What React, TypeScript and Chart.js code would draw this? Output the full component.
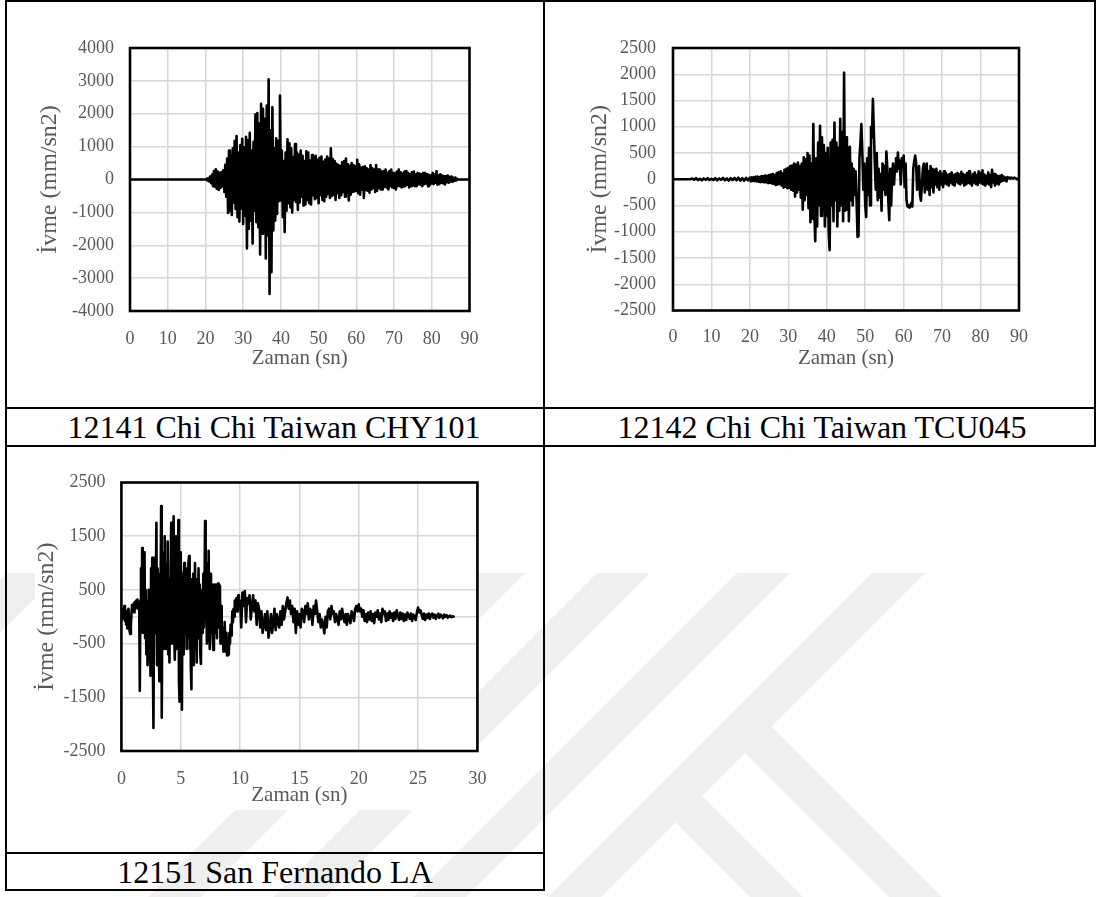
import React, { useEffect, useRef } from "react";
import { Chart, registerables } from "chart.js";

Chart.register(...registerables);

const SERIF = '"Liberation Serif", "Times New Roman", serif';
const TICK_SIZE = 18;
const X_TITLE_SIZE = 21;
const Y_TITLE_SIZE = 24;
const AXIS_GREY = "#595959";
const GRID_GREY = "#d6d6d6";
const TRACE_WIDTH = 2.6;

const xTitle = "Zaman (sn)";
const yTitle = "İvme (mm/sn2)";

// ---------- 12141 Chi Chi Taiwan CHY101 ----------
const chyCaption = "12141 Chi Chi Taiwan CHY101";
const chyRecordEnd = 90; // s
const chyOnset = 20; // s, ground at rest before this
const chyStep = 0.25; // s
// acceleration (mm/sn2), one row per second from 20 s
const chyAccel = [
  0, 20, -30, 40,
  -60, 90, -110, 150,
  -200, 260, -220, 310,
  -280, 240, -320, 200,
  -260, 230, -200, 280,
  -380, 450, -520, 640,
  -1020, 880, -960, 720,
  -1080, 950, -700, 1180,
  -900, 1320, -1150, 820,
  -1280, 1050, -880, 1240,
  -1350, 980, -1100, 1300,
  -2100, 1200, -1500, 1420,
  -1250, 880, -1950, 1150,
  -950, 1980, -1300, 2020,
  -1450, 1700, -2280, 2300,
  -1650, 2150, -1500, 1850,
  -2400, 2250, -1700, 3050,
  -3480, 1500, -2820, 2200,
  -1550, 950, -1250, 1250,
  -1050, 1180, -650, 2550,
  -580, 880, -1150, 560,
  -1600, 820, -950, 1220,
  -720, 1100, -850, 950,
  -1000, 680, -620, 1080,
  -680, 820, -930, 760,
  -700, 880, -520, 720,
  -800, 560, -760, 860,
  -620, 820, -720, 580,
  -760, 740, -480, 680,
  -600, 720, -560, 600,
  -720, 660, -480, 700,
  -620, 540, -660, 610,
  -520, 700, -440, 640,
  -560, 950, -500, 620,
  -460, 560, -620, 480,
  -420, 440, -560, 420,
  -480, 520, -380, 560,
  -520, 640, -340, 460,
  -640, 420, -460, 500,
  -380, 440, -360, 400,
  -340, 600, -420, 460,
  -460, 360, -300, 380,
  -560, 400, -320, 340,
  -340, 300, -400, 440,
  -300, 340, -260, 300,
  -380, 440, -340, 300,
  -260, 300, -300, 240,
  -300, 260, -220, 300,
  -240, 200, -300, 260,
  -200, 300, -240, 200,
  -260, 200, -300, 240,
  -200, 300, -200, 220,
  -240, 180, -220, 240,
  -200, 260, -160, 200,
  -240, 160, -200, 220,
  -160, 240, -200, 160,
  -200, 200, -140, 180,
  -160, 160, -200, 200,
  -140, 200, -120, 160,
  -200, 140, -160, 120,
  -120, 200, -140, 150,
  -100, 250, -160, 120,
  -140, 160, -100, 120,
  -120, 100, -150, 100,
  -80, 120, -100, 80,
  -60, 90, -70, 50,
  -40, 60, -30, 20,
  0,
];
const chyTimeTicks = [0, 10, 20, 30, 40, 50, 60, 70, 80, 90];
const chyAccelTicks = [-4000, -3000, -2000, -1000, 0, 1000, 2000, 3000, 4000];

// ---------- 12142 Chi Chi Taiwan TCU045 ----------
const tcuCaption = "12142 Chi Chi Taiwan TCU045";
const tcuQuietStep = 0.5; // s, 0–19.5 s
const tcuQuiet = [
  0, 0, 0, 0, 0, 0, 0, 0, 0, 0,
  15, -10, 20, -15, 10, -20, 15, -10, 20, -15,
  10, -15, 20, -20, 15, -10, 25, -20, 15, -25,
  20, -15, 25, -20, 30, -25, 20, -30, 25, -20,
];
const tcuMainStart = 20; // s
const tcuMainStep = 0.25; // s
// acceleration (mm/sn2), one row per second from 20 s
const tcuMain = [
  30, -40, 35, -30,
  40, -35, 45, -40,
  50, -45, 40, -55,
  60, -50, 55, -60,
  70, -60, 65, -75,
  80, -70, 90, -80,
  100, -90, 80, -110,
  120, -100, 130, -90,
  150, -120, 110, -160,
  180, -140, 200, -170,
  220, -160, 250, -200,
  260, -220, 300, -330,
  280, -250, 320, -200,
  250, -350, 300, -580,
  420, -400, 380, -300,
  500, -550, 450, -820,
  300, -750, 1050, -600,
  -1180, 400, -900, 700,
  -500, 1020, -700, 800,
  -600, 650, -900, 500,
  -700, 600, -1000, -1350,
  700, -500, 750, -800,
  1080, -400, 700, -900,
  600, -600, 1150, -500,
  900, -800, 2030, -600,
  800, -580, 600, -800,
  620, -400, 300, -500,
  200, -300, 150, -400,
  -1100, -1080, 400, 700,
  1050, 500, -200, 300,
  -500, -720, 400, -300,
  600, -500, 1000, 800,
  1530, 900, 300, -200,
  500, -400, 200, -350,
  100, -600, 300, -200,
  250, -300, 530, 200,
  -400, -780, 200, -500,
  100, 300, -100, 250,
  400, 150, 510, 200,
  350, -100, 400, 250,
  450, -150, 300, -400,
  -520, -500, -540, -500,
  -450, -520, 200, 350,
  450, 300, -200, 100,
  250, -300, -410, -100,
  200, 300, -250, 100,
  300, -200, 150, -300,
  250, -150, 200, -250,
  180, -100, 200, -150,
  120, -200, 150, -100,
  100, -150, 150, -80,
  120, -100, 80, -120,
  100, -60, 130, -100,
  80, -120, 100, -50,
  120, -80, 90, -100,
  140, -60, 100, -120,
  80, -100, 120, -70,
  150, -80, 60, -120,
  100, -60, 130, -90,
  80, -110, 150, -60,
  120, -80, 170, -100,
  90, -120, 60, -80,
  130, -100, 80, -150,
  180, -60, 100, -120,
  90, -80, 60, -100,
  60, -50, 80, -30,
  50, -20, 30, -40,
  40, 20, 30, 10,
  30, 20, 10, 30,
  20, 10, 0, 10,
  0,
];
const tcuTimeTicks = [0, 10, 20, 30, 40, 50, 60, 70, 80, 90];
const tcuAccelTicks = [-2500, -2000, -1500, -1000, -500, 0, 500, 1000, 1500, 2000, 2500];

// ---------- 12151 San Fernando LA ----------
const sfCaption = "12151 San Fernando LA";
const sfStrongStep = 0.05; // s, strong shaking 0–9.95 s
// acceleration (mm/sn2), one row per second from 0 s
const sfStrong = [
  0, 80, -40, 150, 60, 200, -80, 120, -150, 60, -220, 80, 150, -120, -280, -320, -150, 60, 220, 100,
  150, 250, 80, 280, 160, 300, 200, 320, 150, 280, 260, -1380, 300, 900, -200, 1280, -300, 600, -100, 1200,
  -400, 500, -700, 300, -900, -600, 500, -300, 500, -1100, 900, -400, 1100, -800, -2070, 300, 1100, -300, 600, 1750,
  -900, 900, 600, -600, -1200, 800, 400, 2060, -1880, 400, 800, -600, 1200, 1500, -300, -600, 1000, -400, 1400, -700,
  700, -850, 600, 900, 1750, -500, 900, 1200, 1870, -300, -800, 600, 1500, -600, 900, 400, 1800, -1200, -1580, 900,
  1200, -400, -1730, 800, -700, 600, 1000, -300, 800, 200, -600, 900, -400, 1000, 1130, -600, 500, -900, -1350, 700,
  -400, 800, -900, 600, 1000, -600, 400, -850, 700, -300, 900, -400, 600, -700, -880, 300, 500, -300, 800, -200,
  300, 1780, 400, 900, -500, 600, 1000, 1230, -300, -600, 800, 400, -300, 600, -400, -620, 200, 600, -300, 400,
  600, -400, 550, 620, -200, 500, 580, -500, 200, -300, -500, -200, -650, -300, -100, -500, -650, -300, -720, -400,
  -600, -700, -300, -500, -150, -350, -200, 100, -100, 150, 0, 300, 100, 250, 350, 100, 250, 400, 200, 300,
];
const sfCodaStart = 10; // s
const sfCodaStep = 0.1; // s
// acceleration (mm/sn2), one row per second from 10 s
const sfCoda = [
  300, -200, 450, 200, 480, -100, 350, 250, 400, -50,
  200, 400, 100, 300, -150, 250, 150, -200, 100, -300,
  -150, 50, -250, 100, -390, -200, 50, -300, -100, 150,
  -250, 50, -100, -200, 100, -150, 200, -50, 100, 250,
  360, 150, 300, 50, 200, -100, 150, -300, 100, -150,
  50, -200, 150, 100, -100, 200, 50, 250, -50, 150,
  100, -150, 200, 50, 300, 100, -100, 50, -200, -50,
  -150, -310, 0, -200, 100, 150, -50, 200, 50, 100,
  -100, 50, -50, -150, 100, -50, 150, 0, -100, 50,
  -150, 50, -50, -120, 100, 50, -80, 150, 200, 100,
  230, 100, 150, 0, 120, -80, 50, -100, 80, -50,
  100, -80, 50, -120, 80, 0, 120, -50, 60, -100,
  150, 50, 100, -80, 60, -60, 100, -20, 60, -80,
  80, -40, 120, 20, -60, 80, -40, 60, -80, 40,
  -60, 80, 20, -40, 60, -80, 40, 0, -60, 80,
  170, 80, 120, 40, -40, 60, -60, 40, -20, 60,
  -40, 40, 60, -20, 40, -40, 20, 60, -20, 40,
  20, -30, 40, 0, 30, -20, 10, 20, -10, 10,
  0,
];
const sfTimeTicks = [0, 5, 10, 15, 20, 25, 30];
const sfAccelTicks = [-2500, -1500, -500, 0, 500, 1500, 2500];
const sfAccelLabels = [-2500, -1500, -500, 500, 1500, 2500];

type Pt = { x: number; y: number };

function samples(t0: number, dt: number, values: number[]): Pt[] {
  return values.map((v, i) => ({ x: Math.round((t0 + i * dt) * 1000) / 1000, y: v }));
}

const chyPoints: Pt[] = [
  { x: 0, y: 0 },
  ...samples(chyOnset, chyStep, chyAccel),
  { x: chyRecordEnd, y: 0 },
];
const tcuPoints: Pt[] = [
  ...samples(0, tcuQuietStep, tcuQuiet),
  ...samples(tcuMainStart, tcuMainStep, tcuMain),
];
const sfPoints: Pt[] = [
  ...samples(0, sfStrongStep, sfStrong),
  ...samples(sfCodaStart, sfCodaStep, sfCoda),
];

type Box = { left: number; top: number; width: number; height: number };
type Area = { left: number; top: number; right: number; bottom: number };

// black frame round the plot area
const plotFrame = {
  id: "plotFrame",
  afterDatasetsDraw(chart: any) {
    const { ctx, chartArea } = chart;
    ctx.save();
    ctx.strokeStyle = "#000";
    ctx.lineWidth = 2.6;
    ctx.strokeRect(
      chartArea.left,
      chartArea.top,
      chartArea.right - chartArea.left,
      chartArea.bottom - chartArea.top
    );
    ctx.restore();
  },
};

interface TraceProps {
  box: Box;
  area: Area;
  points: Pt[];
  timeTicks: number[];
  accelTicks: number[];
  accelLabels: number[];
  yTitleX: number;
  xTitleY: number;
  yTickGap: number;
  xTickGap: number;
}

function Accelerogram(p: TraceProps) {
  const ref = useRef<HTMLCanvasElement>(null);
  useEffect(() => {
    if (!ref.current) return;
    const { box, area } = p;
    const yTitleLH = Y_TITLE_SIZE * 1.2;
    const xTitleLH = X_TITLE_SIZE * 1.2;
    const yWidth = area.left - box.left;
    const padTop = area.top - box.top;
    const padRight = box.left + box.width - area.right;
    const xHeight = p.xTitleY - area.bottom + xTitleLH / 2;
    const padBottom = box.top + box.height - area.bottom - xHeight;
    const yTitlePad = p.yTitleX - box.left - yTitleLH / 2;

    const chart = new Chart(ref.current, {
      type: "line",
      data: {
        datasets: [
          {
            data: p.points,
            borderColor: "#000",
            borderWidth: TRACE_WIDTH,
            borderJoinStyle: "round",
            borderCapStyle: "round",
            pointRadius: 0,
            tension: 0,
            fill: false,
          },
        ],
      },
      options: {
        animation: false,
        responsive: false,
        devicePixelRatio: 1,
        events: [],
        parsing: false,
        layout: { padding: { top: padTop, left: 0, right: padRight, bottom: padBottom } },
        plugins: { legend: { display: false }, tooltip: { enabled: false } },
        scales: {
          x: {
            type: "linear",
            min: p.timeTicks[0],
            max: p.timeTicks[p.timeTicks.length - 1],
            afterBuildTicks: (s: any) => {
              s.ticks = p.timeTicks.map((v) => ({ value: v }));
            },
            afterFit: (s: any) => {
              s.height = xHeight;
              s.paddingLeft = 0;
              s.paddingRight = 0;
            },
            ticks: {
              color: AXIS_GREY,
              font: { family: SERIF, size: TICK_SIZE },
              padding: p.xTickGap,
              maxRotation: 0,
              minRotation: 0,
              autoSkip: false,
              callback: (v: any) => String(v),
            },
            grid: { color: GRID_GREY, lineWidth: 1.5, drawTicks: false },
            border: { display: false },
            title: {
              display: true,
              text: xTitle,
              color: AXIS_GREY,
              font: { family: SERIF, size: X_TITLE_SIZE },
              padding: 0,
            },
          },
          y: {
            type: "linear",
            min: p.accelTicks[0],
            max: p.accelTicks[p.accelTicks.length - 1],
            afterBuildTicks: (s: any) => {
              s.ticks = p.accelTicks.map((v) => ({ value: v }));
            },
            afterFit: (s: any) => {
              s.width = yWidth;
              s.paddingTop = 0;
              s.paddingBottom = 0;
            },
            ticks: {
              color: AXIS_GREY,
              font: { family: SERIF, size: TICK_SIZE },
              padding: p.yTickGap,
              autoSkip: false,
              callback: (v: any) => (p.accelLabels.includes(v) ? String(v) : ""),
            },
            grid: { color: GRID_GREY, lineWidth: 1.5, drawTicks: false },
            border: { display: false },
            title: {
              display: true,
              text: yTitle,
              color: AXIS_GREY,
              font: { family: SERIF, size: Y_TITLE_SIZE },
              padding: { top: yTitlePad, bottom: 0 },
            },
          },
        },
      } as any,
      plugins: [plotFrame],
    });
    return () => chart.destroy();
  }, []);

  const { box } = p;
  return (
    <canvas
      ref={ref}
      width={box.width}
      height={box.height}
      style={{
        position: "absolute",
        left: box.left,
        top: box.top,
        width: box.width,
        height: box.height,
      }}
    />
  );
}

// faint diagonal watermark bands behind the table
const WM_TOP = 573;
const WM_BOTTOM = 897;
const WM_BAND = 53;
const wmRising = [580, 1045, 1170, 1310, 1445];
const wmFalling = [-45, 94];
const wmJoin = 1498;

function Watermark() {
  const polys: string[] = [];
  wmRising.forEach((a) => {
    const b = a + WM_BAND;
    polys.push(
      `${a - WM_TOP},${WM_TOP} ${b - WM_TOP},${WM_TOP} ${b - WM_BOTTOM},${WM_BOTTOM} ${a - WM_BOTTOM},${WM_BOTTOM}`
    );
  });
  wmFalling.forEach((c) => {
    const d = c + WM_BAND;
    const x1 = (wmJoin - c) / 2;
    const x2 = (wmJoin - d) / 2;
    polys.push(
      `${x1},${x1 + c} ${WM_BOTTOM - c},${WM_BOTTOM} ${WM_BOTTOM - d},${WM_BOTTOM} ${x2},${x2 + d}`
    );
  });
  return (
    <svg
      width={1096}
      height={897}
      style={{ position: "absolute", left: 0, top: 0 }}
    >
      {polys.map((pts, i) => (
        <polygon key={i} points={pts} fill="#efefef" />
      ))}
    </svg>
  );
}

const rules: Box[] = [
  { left: 5, top: 0, width: 1091, height: 2 },
  { left: 5, top: 0, width: 2, height: 891 },
  { left: 543, top: 0, width: 2, height: 891 },
  { left: 1094, top: 0, width: 2, height: 447 },
  { left: 5, top: 407, width: 1091, height: 2 },
  { left: 5, top: 445, width: 1091, height: 2 },
  { left: 5, top: 852, width: 540, height: 2 },
  { left: 5, top: 889, width: 540, height: 2 },
];

function Caption({ text, cx, baseline }: { text: string; cx: number; baseline: number }) {
  return (
    <div
      style={{
        position: "absolute",
        left: cx - 260,
        width: 520,
        top: baseline - 26.8,
        textAlign: "center",
        fontFamily: SERIF,
        fontSize: 32,
        lineHeight: "32px",
        color: "#000",
        whiteSpace: "nowrap",
      }}
    >
      {text}
    </div>
  );
}

export default function App() {
  return (
    <div
      style={{
        position: "absolute",
        left: 0,
        top: 0,
        width: 1096,
        height: 897,
        background: "#fff",
        overflow: "hidden",
      }}
    >
      <Watermark />
      <div
        style={{ position: "absolute", left: 35, top: 452, width: 443, height: 358, background: "#fff" }}
      />
      {rules.map((r, i) => (
        <div
          key={i}
          style={{
            position: "absolute",
            left: r.left,
            top: r.top,
            width: r.width,
            height: r.height,
            background: "#000",
          }}
        />
      ))}
      <Accelerogram
        box={{ left: 10, top: 4, width: 520, height: 400 }}
        area={{ left: 130, top: 48, right: 469.5, bottom: 311 }}
        points={chyPoints}
        timeTicks={chyTimeTicks}
        accelTicks={chyAccelTicks}
        accelLabels={chyAccelTicks}
        yTitleX={50}
        xTitleY={358}
        yTickGap={16}
        xTickGap={17}
      />
      <Accelerogram
        box={{ left: 548, top: 4, width: 540, height: 400 }}
        area={{ left: 673, top: 48, right: 1019, bottom: 310.5 }}
        points={tcuPoints}
        timeTicks={tcuTimeTicks}
        accelTicks={tcuAccelTicks}
        accelLabels={tcuAccelTicks}
        yTitleX={600}
        xTitleY={358}
        yTickGap={17}
        xTickGap={16}
      />
      <Accelerogram
        box={{ left: 10, top: 450, width: 520, height: 398 }}
        area={{ left: 121.4, top: 482.5, right: 477.4, bottom: 751 }}
        points={sfPoints}
        timeTicks={sfTimeTicks}
        accelTicks={sfAccelTicks}
        accelLabels={sfAccelLabels}
        yTitleX={46.4}
        xTitleY={795}
        yTickGap={16}
        xTickGap={17}
      />
      <Caption text={chyCaption} cx={274} baseline={438} />
      <Caption text={tcuCaption} cx={822} baseline={438} />
      <Caption text={sfCaption} cx={275} baseline={883} />
    </div>
  );
}
